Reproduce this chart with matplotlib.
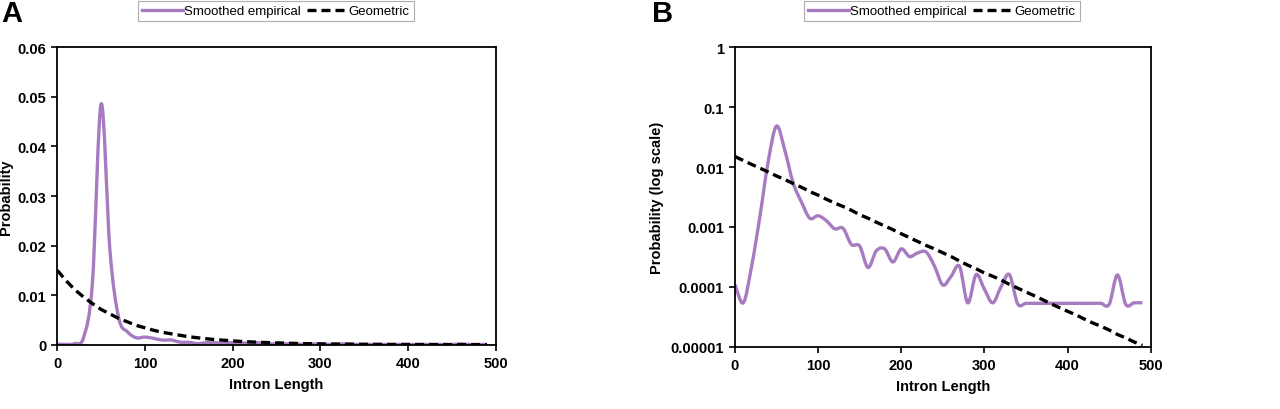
import numpy as np
import matplotlib
matplotlib.use("Agg")
import matplotlib.pyplot as plt
from matplotlib.path import Path
from matplotlib.patches import PathPatch
from matplotlib.lines import Line2D

plt.rcParams['font.family'] = ['Liberation Sans', 'DejaVu Sans']

# intron length (every 10)
length = list(range(0, 500, 10))

# smoothed empirical distribution
empirical = [1.1e-4, 5.4e-5, 2.2e-4, 1.5e-3, 0.0125, 0.0486, 0.019, 0.0054, 0.0026, 0.0014,
             0.00154, 0.00127, 0.00093, 0.00095, 0.00051, 0.00048, 0.00021, 0.0004, 0.00043, 0.00026,
             0.00043, 0.00032, 0.00037, 0.00038, 0.00022, 0.000107, 0.00015, 0.00022, 5.4e-5, 0.00016,
             9.1e-5, 5.4e-5, 0.0001, 0.00016, 5.2e-5, 5.3e-5, 5.3e-5, 5.3e-5, 5.3e-5, 5.3e-5,
             5.3e-5, 5.3e-5, 5.3e-5, 5.3e-5, 5.3e-5, 5.1e-5, 0.000158, 5.1e-5, 5.4e-5, 5.4e-5]

# geometric fit
geometric = [0.015, 0.0129, 0.0111, 0.0096, 0.0083, 0.0071, 0.0062, 0.0053, 0.0046, 0.0039,
             0.0034, 0.0029, 0.0025, 0.0022, 0.0019, 0.0016, 0.0014, 0.0012, 0.00104, 0.0009,
             0.00077, 0.00066, 0.00057, 0.00049, 0.00043, 0.00037, 0.00032, 0.00027, 0.00023, 0.0002,
             0.00017, 0.00015, 0.00013, 0.00011, 9.5e-5, 8.2e-5, 7.1e-5, 6.1e-5, 5.2e-5, 4.5e-5,
             3.9e-5, 3.4e-5, 2.9e-5, 2.5e-5, 2.2e-5, 1.9e-5, 1.6e-5, 1.4e-5, 1.2e-5, 1.05e-5]

xticks = [0, 100, 200, 300, 400, 500]
yticks_a = [0, 0.01, 0.02, 0.03, 0.04, 0.05, 0.06]
ylabels_a = ['0', '0.01', '0.02', '0.03', '0.04', '0.05', '0.06']
yticks_b = [1e-5, 1e-4, 1e-3, 1e-2, 1e-1, 1]
ylabels_b = ['0.00001', '0.0001', '0.001', '0.01', '0.1', '1']

purple = '#A77BC0'
LW = 2.4
DASH = (0, (2.7, 1.5))
FS = 10.5


def smooth_path(x, y, log=False):
    # Excel-style smoothed line: cubic Bezier through the data points
    x = np.asarray(x, float)
    y = np.asarray(y, float)
    if log:
        y = np.log10(y)
    n = len(x)
    verts = [(x[0], y[0])]
    codes = [Path.MOVETO]
    for i in range(n - 1):
        i0 = max(i - 1, 0)
        i3 = min(i + 2, n - 1)
        c1 = (x[i] + (x[i + 1] - x[i0]) / 6, y[i] + (y[i + 1] - y[i0]) / 6)
        c2 = (x[i + 1] - (x[i3] - x[i]) / 6, y[i + 1] - (y[i3] - y[i]) / 6)
        verts += [c1, c2, (x[i + 1], y[i + 1])]
        codes += [Path.CURVE4] * 3
    verts = np.array(verts)
    if log:
        verts[:, 1] = 10 ** verts[:, 1]
    return Path(verts, codes)


fig = plt.figure(figsize=(12.8, 4.1), dpi=100)
axA = fig.add_axes([0.0448, 0.1568, 0.3425, 0.7254])
axB = fig.add_axes([0.5742, 0.152, 0.3248, 0.730])

for ax, log in ((axA, False), (axB, True)):
    if log:
        ax.set_yscale('log')
    ax.add_patch(PathPatch(smooth_path(length, empirical, log), facecolor='none',
                           edgecolor=purple, lw=LW, joinstyle='round', capstyle='butt'))
    ax.plot(length, geometric, color='black', lw=LW, ls=DASH)
    for s in ax.spines.values():
        s.set_linewidth(1.3)
    ax.set_xlim(0, 500)
    ax.set_xticks(xticks)
    ax.set_xticklabels([str(t) for t in xticks], fontsize=FS, fontweight='bold')
    ax.tick_params(direction='out', length=4, width=1.2, pad=4)
    ax.tick_params(axis='y', which='minor', length=0)
    ax.set_xlabel('Intron Length', fontsize=FS, fontweight='bold', labelpad=5)

axA.set_ylim(0, 0.06)
axA.set_yticks(yticks_a)
axA.set_yticklabels(ylabels_a, fontsize=FS, fontweight='bold')
axA.set_ylabel('Probability', fontsize=FS, fontweight='bold', labelpad=3)

axB.set_ylim(1e-5, 1)
axB.set_yticks(yticks_b)
axB.set_yticklabels(ylabels_b, fontsize=FS, fontweight='bold')
axB.set_ylabel('Probability (log scale)', fontsize=FS, fontweight='bold', labelpad=5)

handles = [Line2D([], [], color=purple, lw=LW, label='Smoothed empirical'),
           Line2D([], [], color='black', lw=LW, ls=DASH, label='Geometric')]
for cx in (276 / 1280, 942 / 1280):
    leg = fig.legend(handles=handles, loc='center', bbox_to_anchor=(cx, 1 - 12 / 410),
                     ncol=2, fontsize=9.5, frameon=True, fancybox=False, handlelength=3.1,
                     handletextpad=0.1, columnspacing=0.4, borderpad=0.3, borderaxespad=0)
    leg.get_frame().set_edgecolor('#999999')
    leg.get_frame().set_linewidth(0.8)

fig.text(1 / 1280, 1 - 22 / 410, 'A', fontsize=21, fontweight='bold', va='baseline', ha='left')
fig.text(652 / 1280, 1 - 22 / 410, 'B', fontsize=21, fontweight='bold', va='baseline', ha='left')

fig.savefig('out.png', dpi=100)
